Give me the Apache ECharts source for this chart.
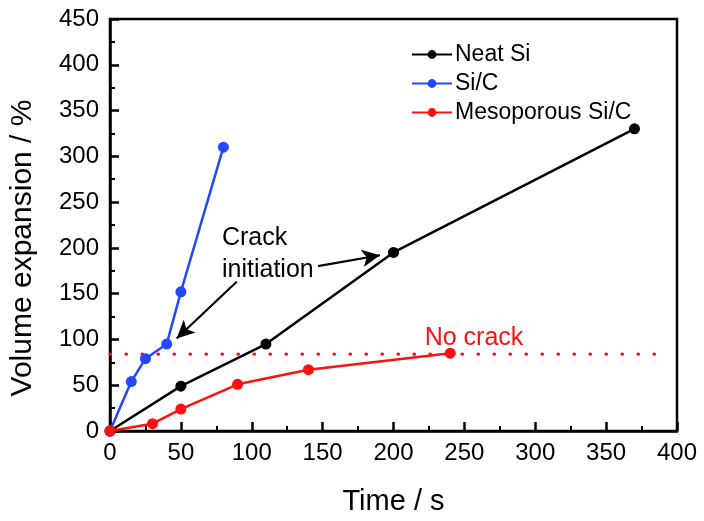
<!DOCTYPE html>
<html>
<head>
<meta charset="utf-8">
<script src="https://cdn.jsdelivr.net/npm/echarts@6/dist/echarts.min.js"></script>
<style>
  html, body { margin: 0; padding: 0; background: #fff; }
  #chart { width: 704px; height: 521px; }
</style>
</head>
<body>
<div id="chart"></div>
<script>
// Volume expansion (%) versus lithiation time (s)
const neatSiTime = [0, 50, 110, 200, 370];
const neatSiExpansion = [0, 49, 95, 195, 330];

const siCTime = [0, 15, 25, 40, 50, 80];
const siCExpansion = [0, 54, 79, 95, 152, 310];

const mesoTime = [0, 30, 50, 90, 140, 240];
const mesoExpansion = [0, 8, 24, 51, 67, 85];

// Threshold level drawn as the dotted reference line
const thresholdLevel = [84, 84];
const thresholdSpan = [0, 390];

const seriesNames = ['Neat Si', 'Si/C', 'Mesoporous Si/C'];
const xTicks = [0, 50, 100, 150, 200, 250, 300, 350, 400];
const yTicks = [0, 50, 100, 150, 200, 250, 300, 350, 400, 450];

const FONT = '"Liberation Sans", Arial, sans-serif';
const BLACK = '#000000';
const BLUE = '#2446ff';
const RED = '#ff1010';

const pairs = (xs, ys) => xs.map((x, i) => [x, ys[i]]);

function lineSeries(name, xs, ys, color) {
  return {
    name: name,
    type: 'line',
    data: pairs(xs, ys),
    symbol: 'circle',
    symbolSize: 11,
    lineStyle: { color: color, width: 2.5 },
    itemStyle: { color: color },
    z: 3
  };
}

const arrowStyle = { color: BLACK, width: 2.2, type: 'solid' };

const chart = echarts.init(document.getElementById('chart'), null, { renderer: 'canvas' });

chart.setOption({
  animation: false,
  backgroundColor: '#ffffff',
  textStyle: { fontFamily: FONT },
  grid: {
    left: 110, right: 27, top: 19, bottom: 88,
    show: true, borderColor: BLACK, borderWidth: 2.5, backgroundColor: 'transparent'
  },
  legend: {
    data: seriesNames,
    orient: 'vertical',
    left: 406, top: 38,
    itemWidth: 40, itemHeight: 11, itemGap: 6,
    textStyle: { fontSize: 23, color: BLACK, fontFamily: FONT, padding: [0, 0, 0, -2] },
    selectedMode: false
  },
  xAxis: {
    type: 'value',
    min: xTicks[0], max: xTicks[xTicks.length - 1], interval: 50,
    name: 'Time / s',
    nameLocation: 'middle', nameGap: 56,
    nameTextStyle: { fontSize: 29, color: BLACK, fontFamily: FONT },
    axisLine: { show: true, onZero: false, lineStyle: { color: BLACK, width: 2.5 } },
    axisTick: { show: true, inside: true, length: 9, lineStyle: { color: BLACK, width: 2.5 } },
    minorTick: { show: true, splitNumber: 2, length: 5, lineStyle: { color: BLACK, width: 2 } },
    axisLabel: { fontSize: 24, color: BLACK, margin: 10, fontFamily: FONT },
    splitLine: { show: false }
  },
  yAxis: {
    type: 'value',
    min: yTicks[0], max: yTicks[yTicks.length - 1], interval: 50,
    name: 'Volume expansion / %',
    nameLocation: 'middle', nameGap: 72,
    nameTextStyle: { fontSize: 30, color: BLACK, fontFamily: FONT, padding: [0, 46, 0, 0] },
    axisLine: { show: true, onZero: false, lineStyle: { color: BLACK, width: 2.5 } },
    axisTick: { show: true, inside: true, length: 9, lineStyle: { color: BLACK, width: 2.5 } },
    minorTick: { show: true, splitNumber: 2, length: 5, lineStyle: { color: BLACK, width: 2 } },
    axisLabel: { fontSize: 24, color: BLACK, margin: 11, fontFamily: FONT },
    splitLine: { show: false }
  },
  series: [
    {
      name: 'threshold',
      type: 'line',
      data: pairs(thresholdSpan, thresholdLevel),
      symbol: 'none',
      lineStyle: { color: RED, width: 3.2, type: [0.5, 15.5], cap: 'round' },
      silent: true,
      z: 1,
      markPoint: {
        symbol: 'circle', symbolSize: 0,
        label: {
          show: true, position: 'inside', align: 'left', verticalAlign: 'middle',
          fontSize: 25, color: RED, fontFamily: FONT,
          formatter: 'No crack'
        },
        data: [{ coord: [222, 102] }]
      }
    },
    Object.assign(lineSeries(seriesNames[0], neatSiTime, neatSiExpansion, BLACK), {
      markLine: {
        silent: true,
        symbol: ['none', 'arrow'],
        symbolSize: [13, 18],
        label: { show: false },
        lineStyle: arrowStyle,
        emphasis: { disabled: true },
        data: [
          [{ coord: [146.7, 180] }, { coord: [190.5, 192] }],
          [{ coord: [89.4, 163] }, { coord: [47, 101] }]
        ]
      },
      markPoint: {
        symbol: 'circle', symbolSize: 0,
        label: {
          show: true, position: 'inside', align: 'left', verticalAlign: 'middle',
          fontSize: 25, lineHeight: 32, color: BLACK, fontFamily: FONT,
          formatter: 'Crack\ninitiation'
        },
        data: [{ coord: [79, 193] }]
      }
    }),
    lineSeries(seriesNames[1], siCTime, siCExpansion, BLUE),
    lineSeries(seriesNames[2], mesoTime, mesoExpansion, RED)
  ]
});
</script>
</body>
</html>
